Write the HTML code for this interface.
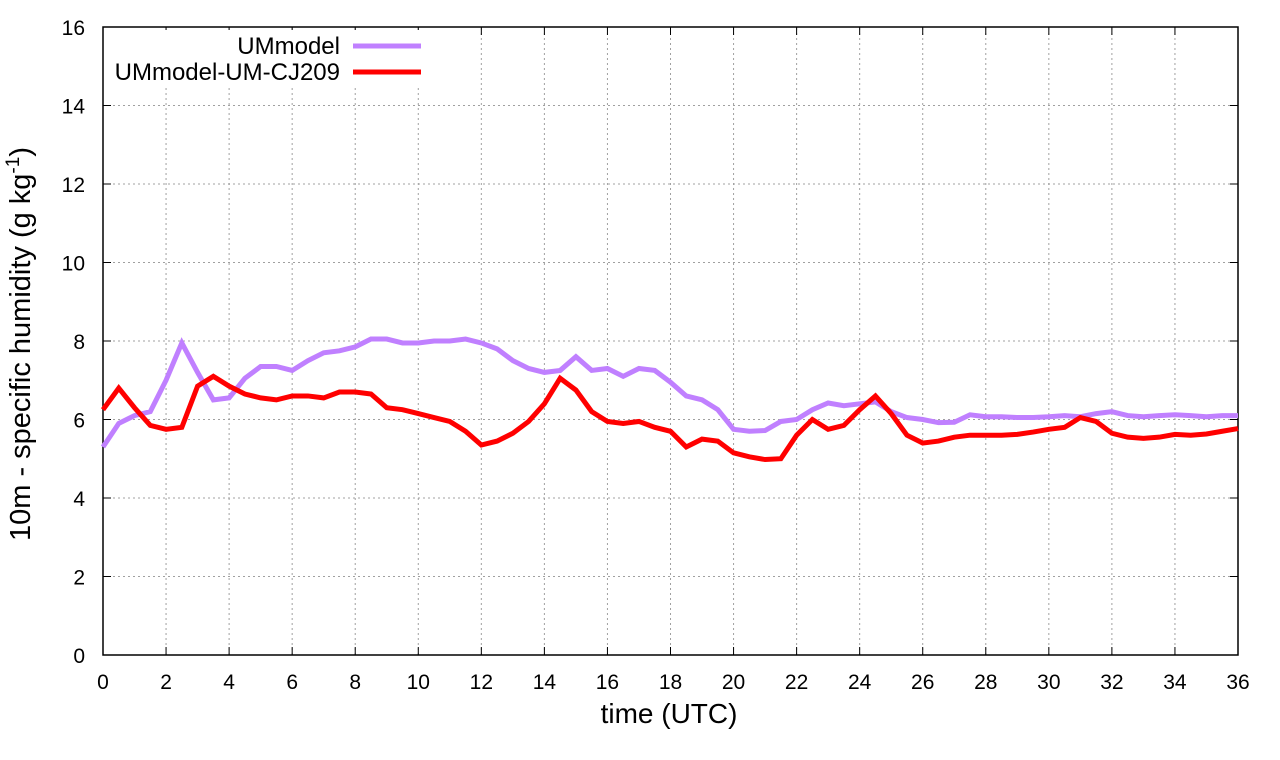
<!DOCTYPE html>
<html><head><meta charset="utf-8"><style>body{margin:0;background:#fff}svg{display:block;font-family:"Liberation Sans",sans-serif}</style></head>
<body>
<svg id="chart" width="1280" height="760" xmlns="http://www.w3.org/2000/svg">
<g id="grid"></g>
<g id="axes"></g>
<g id="series"></g>
<g id="legend"></g>
<text x="669" y="723" font-size="28" text-anchor="middle">time (UTC)</text>
<text transform="translate(30,344) rotate(-90)" font-size="29" text-anchor="middle">10m - specific humidity (g kg<tspan dy="-11" font-size="19">-1</tspan><tspan dy="11">)</tspan></text>
</svg>
<script>
const xTicks=[0,2,4,6,8,10,12,14,16,18,20,22,24,26,28,30,32,34,36];
const yTicks=[0,2,4,6,8,10,12,14,16];
const seriesNames=["UMmodel","UMmodel-UM-CJ209"];
const umModel=[5.3,5.9,6.1,6.2,7.0,7.95,7.2,6.5,6.55,7.05,7.35,7.35,7.25,7.5,7.7,7.75,7.85,8.05,8.05,7.95,7.95,8.0,8.0,8.05,7.95,7.8,7.5,7.3,7.2,7.25,7.6,7.25,7.3,7.1,7.3,7.25,6.95,6.6,6.5,6.25,5.75,5.7,5.72,5.95,6.0,6.25,6.42,6.35,6.4,6.45,6.2,6.05,6.0,5.92,5.93,6.12,6.07,6.07,6.05,6.05,6.07,6.1,6.07,6.15,6.2,6.1,6.07,6.1,6.12,6.1,6.07,6.1,6.1];
const umCJ209=[6.25,6.8,6.3,5.85,5.75,5.8,6.85,7.1,6.85,6.65,6.55,6.5,6.6,6.6,6.55,6.7,6.7,6.65,6.3,6.25,6.15,6.05,5.95,5.7,5.35,5.45,5.65,5.95,6.4,7.05,6.75,6.2,5.95,5.9,5.95,5.8,5.7,5.3,5.5,5.45,5.15,5.05,4.98,5.0,5.6,6.0,5.75,5.85,6.25,6.6,6.15,5.6,5.4,5.45,5.55,5.6,5.6,5.6,5.62,5.68,5.75,5.8,6.05,5.95,5.65,5.55,5.52,5.55,5.62,5.6,5.63,5.7,5.77];
const timeStep=0.5;
const X0=103,X1=1238,Y0=655,Y1=27;
const xs=v=>X0+(v/36)*(X1-X0);
const ys=v=>Y0-(v/16)*(Y0-Y1);
const NS="http://www.w3.org/2000/svg";
function mk(tag,attrs,parent,txt){const e=document.createElementNS(NS,tag);for(const k in attrs)e.setAttribute(k,attrs[k]);if(txt!==undefined)e.textContent=txt;parent.appendChild(e);return e;}
const grid=document.getElementById('grid'),axes=document.getElementById('axes'),series=document.getElementById('series'),legend=document.getElementById('legend');
xTicks.forEach(t=>{
  const g=mk('line',{x1:xs(t),x2:xs(t),y1:Y0,y2:Y1,stroke:'#a0a0a0','stroke-width':1,'stroke-dasharray':'2,3'},grid);
  
  
  const tk=mk('path',{d:`M${xs(t)},${Y0}v-8M${xs(t)},${Y1}v8`,stroke:'#000','stroke-width':1},axes);
  
  
  const l=mk('text',{x:xs(t),y:Y0+34,'font-size':21,'text-anchor':'middle'},axes,String(t));
  
  
});
yTicks.forEach(t=>{
  const g=mk('line',{x1:X0,x2:X1,y1:ys(t),y2:ys(t),stroke:'#a0a0a0','stroke-width':1,'stroke-dasharray':'2,3'},grid);
  
  
  const tk=mk('path',{d:`M${X0},${ys(t)}h8M${X1},${ys(t)}h-8`,stroke:'#000','stroke-width':1},axes);
  
  
  const l=mk('text',{x:X0-18,y:ys(t)+8,'font-size':21,'text-anchor':'end'},axes,String(t));
  
  
});
const fr=mk('rect',{x:X0,y:Y1,width:X1-X0,height:Y0-Y1,fill:'none',stroke:'#000','stroke-width':1.5},axes);


const bg=mk('rect',{x:110,y:30,width:318,height:58,fill:'#fff'},legend);


const colors=['#c080ff','#ff0000'];
[umModel,umCJ209].forEach((arr,i)=>{
  const d=arr.map((v,j)=>(j?'L':'M')+xs(j*timeStep).toFixed(2)+','+ys(v).toFixed(2)).join('');
  const p=mk('path',{d:d,fill:'none',stroke:colors[i],'stroke-width':5,'stroke-linejoin':'miter'},series);
  
  
  const ly=46+i*26;
  const lt=mk('text',{x:340,y:ly+8,'font-size':24,'text-anchor':'end'},legend,seriesNames[i]);
  
  
  const ll=mk('line',{x1:353,x2:421,y1:ly,y2:ly,stroke:colors[i],'stroke-width':5},legend);
  
  
});
</script>
</body></html>
